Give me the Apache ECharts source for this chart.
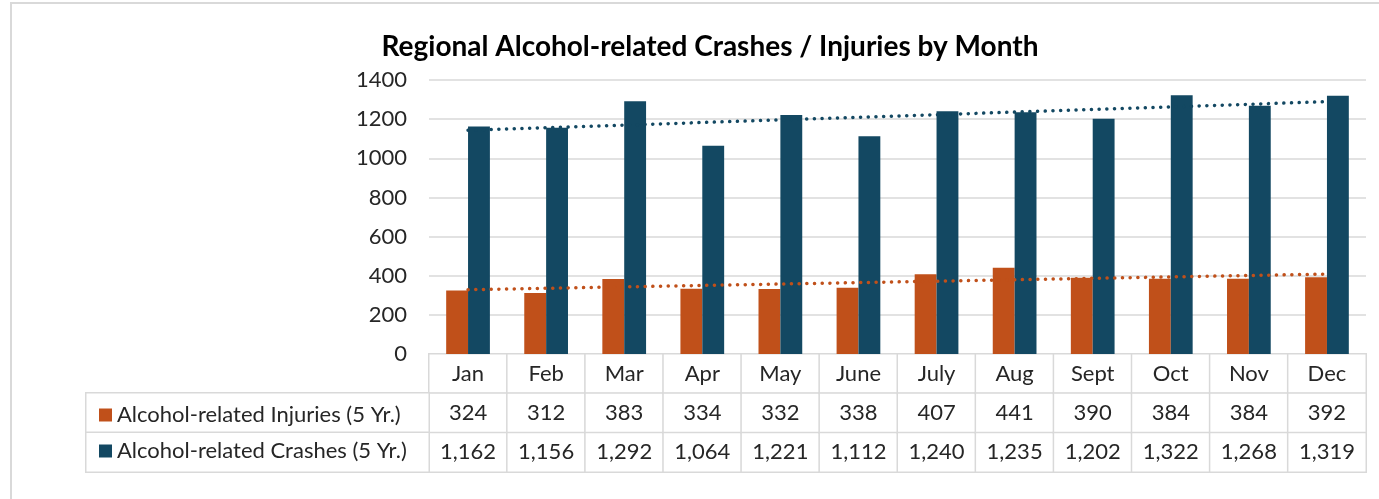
<!DOCTYPE html>
<html>
<head>
<meta charset="utf-8">
<script src="https://cdn.jsdelivr.net/npm/echarts@6/dist/echarts.min.js"></script>
<style>
  html, body { margin: 0; padding: 0; background: #fff; overflow: hidden; }
  #frame { position: absolute; left: 10px; top: 2px; width: 1420px; height: 560px; border: 2px solid #d9d9d9; box-sizing: border-box; }
  #chart { position: absolute; left: 0; top: 0; width: 1379px; height: 499px; }
</style>
</head>
<body>
<div id="frame"></div>
<div id="chart"></div>
<script>
const months = ['Jan', 'Feb', 'Mar', 'Apr', 'May', 'June', 'July', 'Aug', 'Sept', 'Oct', 'Nov', 'Dec'];
const injuries = [324, 312, 383, 334, 332, 338, 407, 441, 390, 384, 384, 392];
const crashes = [1162, 1156, 1292, 1064, 1221, 1112, 1240, 1235, 1202, 1322, 1268, 1319];
const injuryName = 'Alcohol-related Injuries (5 Yr.)';
const crashName = 'Alcohol-related Crashes (5 Yr.)';
const yTicks = { min: 0, max: 1400, interval: 200 };

const ORANGE = '#c0501a';
const BLUE = '#134862';
const TEXT = '#262626';
const BORDER = '#d9d9d9';
const FONT = 'Lato';
const FS = 22;

// least squares trendline, same as excel's linear trendline
function trend(values) {
  const n = values.length;
  let sx = 0, sy = 0, sxy = 0, sxx = 0;
  values.forEach((v, i) => {
    const x = i + 1;
    sx += x; sy += v; sxy += x * v; sxx += x * x;
  });
  const slope = (n * sxy - sx * sy) / (n * sxx - sx * sx);
  const icpt = (sy - slope * sx) / n;
  return values.map((v, i) => +(icpt + slope * (i + 1)).toFixed(2));
}

const fmt = (v) => v.toLocaleString('en-US');

// table cells: row 0 = months, row 1 = injuries, row 2 = crashes
const tableCells = [];
months.forEach((m, c) => {
  tableCells.push({ value: [c, 0, 1], name: m });
  tableCells.push({ value: [c, 1, 1], name: fmt(injuries[c]) });
  tableCells.push({ value: [c, 2, 1], name: fmt(crashes[c]) });
});
const legendCells = [
  { value: [0, 0, 1], name: '' },
  { value: [0, 1, 1], name: '' }
];

const chart = echarts.init(document.getElementById('chart'));

const dotted = { width: 3.5, type: [0.1, 7.6], cap: 'round' };

chart.setOption({
  animation: false,
  textStyle: { fontFamily: FONT },
  title: {
    text: 'Regional Alcohol-related Crashes / Injuries by Month',
    left: 705,
    textAlign: 'center',
    top: 28,
    textStyle: { fontFamily: FONT, fontWeight: 'bold', fontSize: 28, color: '#000' }
  },
  legend: {
    data: [injuryName, crashName],
    orient: 'vertical',
    left: 94,
    top: 398,
    itemWidth: 13,
    itemHeight: 13,
    itemGap: 12,
    icon: 'rect',
    selectedMode: false,
    textStyle: { fontFamily: FONT, fontSize: FS, color: TEXT, lineHeight: 24 }
  },
  grid: [
    { left: 429, right: 13, top: 80, height: 274 },
    { left: 429, right: 13, top: 354, height: 118 },
    { left: 86, width: 343, top: 393, height: 79 }
  ],
  xAxis: [
    {
      gridIndex: 0, type: 'category', data: months,
      axisLine: { show: false }, axisTick: { show: false }, axisLabel: { show: false }
    },
    {
      gridIndex: 1, type: 'category', data: months, show: false
    },
    {
      gridIndex: 2, type: 'category', data: ['legend'], show: false
    }
  ],
  yAxis: [
    {
      gridIndex: 0, type: 'value', min: yTicks.min, max: yTicks.max, interval: yTicks.interval,
      axisLine: { show: false }, axisTick: { show: false },
      axisLabel: { fontFamily: FONT, fontSize: FS, color: TEXT, margin: 22, formatter: (v) => String(v) },
      splitLine: { lineStyle: { color: BORDER, width: 1.5 } }
    },
    {
      gridIndex: 1, type: 'category', data: ['month', 'inj', 'crash'], inverse: true, show: false
    },
    {
      gridIndex: 2, type: 'category', data: ['inj', 'crash'], inverse: true, show: false
    }
  ],
  series: [
    {
      name: injuryName, type: 'bar', xAxisIndex: 0, yAxisIndex: 0,
      data: injuries, barWidth: '28%', barGap: '0%',
      itemStyle: { color: ORANGE }
    },
    {
      name: crashName, type: 'bar', xAxisIndex: 0, yAxisIndex: 0,
      data: crashes, barWidth: '28%', barGap: '0%',
      itemStyle: { color: BLUE }
    },
    {
      name: 'Injuries trend', type: 'line', xAxisIndex: 0, yAxisIndex: 0,
      data: trend(injuries), symbol: 'none', z: 5,
      lineStyle: Object.assign({ color: ORANGE }, dotted)
    },
    {
      name: 'Crashes trend', type: 'line', xAxisIndex: 0, yAxisIndex: 0,
      data: trend(crashes), symbol: 'none', z: 5,
      lineStyle: Object.assign({ color: BLUE }, dotted)
    },
    {
      name: 'table', type: 'heatmap', xAxisIndex: 1, yAxisIndex: 1,
      data: tableCells,
      itemStyle: { color: '#fff', borderColor: BORDER, borderWidth: 1.5 },
      label: { show: true, formatter: '{b}', fontFamily: FONT, fontSize: FS, color: TEXT },
      emphasis: { disabled: true }
    },
    {
      name: 'legend cells', type: 'heatmap', xAxisIndex: 2, yAxisIndex: 2,
      data: legendCells,
      itemStyle: { color: '#fff', borderColor: BORDER, borderWidth: 1.5 },
      label: { show: false },
      emphasis: { disabled: true }
    }
  ]
});
</script>
</body>
</html>
